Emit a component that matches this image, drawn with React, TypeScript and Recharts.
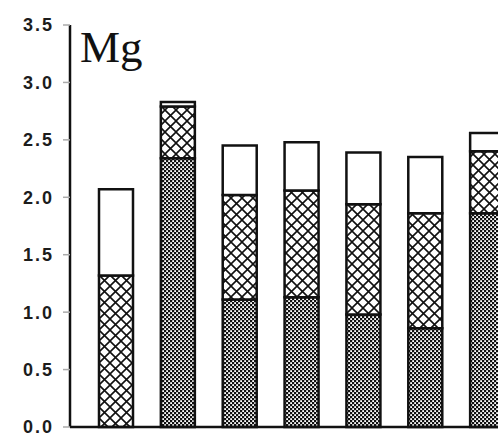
import { BarChart, Bar, XAxis, YAxis } from 'recharts';

const categories = ['1', '2', '3', '4', '5', '6', '7'];
// stacked segments, bottom to top (Mg)
const denseValues = [0, 2.34, 1.11, 1.13, 0.98, 0.86, 1.86];
const crossValues = [1.32, 0.45, 0.91, 0.93, 0.96, 1.0, 0.54];
const openValues = [0.75, 0.04, 0.43, 0.42, 0.45, 0.49, 0.16];
const yTicks = [0, 0.5, 1.0, 1.5, 2.0, 2.5, 3.0, 3.5];

const data = categories.map((c, i) => ({
  name: c,
  dense: denseValues[i],
  cross: crossValues[i],
  open: openValues[i],
}));

const tickStyle = {
  fontSize: 18,
  fontWeight: 700,
  fill: '#1c1c1c',
  fontFamily: 'Liberation Sans, Arial, sans-serif',
  letterSpacing: 2,
};

export default function App() {
  return (
    <div style={{ position: 'absolute', left: 0, top: 0, width: 498, height: 435, overflow: 'hidden', background: '#fff' }}>
      <svg width={0} height={0} style={{ position: 'absolute' }}>
        <defs>
          <pattern id="dense" width={4} height={4} patternUnits="userSpaceOnUse">
            <rect width={4} height={4} fill="#111" />
            <rect x={0.2} y={0.2} width={1.8} height={1.8} fill="#fff" />
            <rect x={2.2} y={2.2} width={1.8} height={1.8} fill="#fff" />
          </pattern>
          <pattern id="cross" width={11} height={11} patternUnits="userSpaceOnUse">
            <rect width={11} height={11} fill="#fff" />
            <path d="M0 0 L11 11 M11 0 L0 11" stroke="#111" strokeWidth={1.6} />
          </pattern>
        </defs>
      </svg>
      <BarChart
        width={540}
        height={435}
        data={data}
        margin={{ top: 25, right: 22, left: 0, bottom: 6 }}
      >
        <XAxis
          dataKey="name"
          tick={false}
          tickLine={false}
          height={2}
          padding={{ left: 15, right: 0 }}
          axisLine={{ stroke: '#111', strokeWidth: 2.5 }}
        />
        <YAxis
          width={70}
          domain={[0, 3.5]}
          ticks={yTicks}
          interval={0}
          tickFormatter={(v: number) => v.toFixed(1)}
          tick={tickStyle}
          tickSize={7}
          tickMargin={9}
          tickLine={{ stroke: '#aaa', strokeWidth: 1.5 }}
          axisLine={{ stroke: '#111', strokeWidth: 2.5 }}
        />
        <Bar dataKey="dense" stackId="a" barSize={34} fill="url(#dense)" stroke="#111" strokeWidth={2.5} isAnimationActive={false} />
        <Bar dataKey="cross" stackId="a" barSize={34} fill="url(#cross)" stroke="#111" strokeWidth={2.5} isAnimationActive={false} />
        <Bar dataKey="open" stackId="a" barSize={34} fill="#fff" stroke="#111" strokeWidth={2.5} isAnimationActive={false} />
      </BarChart>
      <div
        style={{
          position: 'absolute',
          left: 80,
          top: 22,
          fontFamily: 'Liberation Serif, Times New Roman, serif',
          fontSize: 45,
          lineHeight: '50px',
          color: '#111',
        }}
      >
        Mg
      </div>
    </div>
  );
}
